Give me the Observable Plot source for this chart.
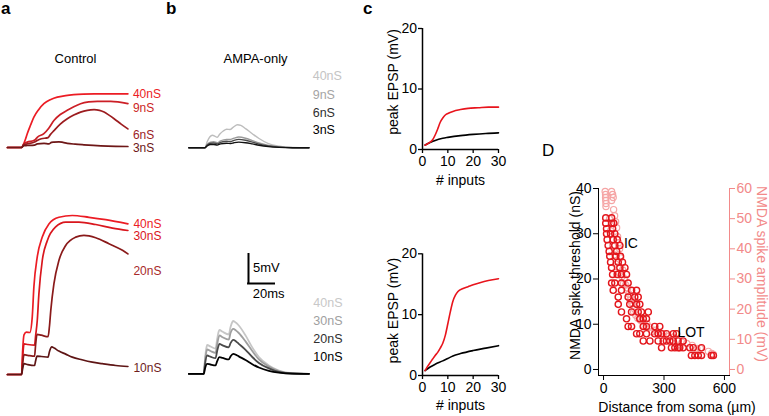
<!DOCTYPE html>
<html><head><meta charset="utf-8">
<script src="https://cdn.jsdelivr.net/npm/d3@7"></script>
<script src="https://cdn.jsdelivr.net/npm/@observablehq/plot@0.6"></script>
<style>
html,body{margin:0;padding:0;background:#fff;}
#chart{position:relative;width:769px;height:416px;overflow:hidden;font-family:"Liberation Sans",Arial,sans-serif;}
#chart svg{position:absolute;left:0;top:0;background:transparent;overflow:visible;}
.lbl{position:absolute;white-space:nowrap;line-height:1;}
</style></head><body><div id="chart"></div>
<script>
// ---------- DATA ----------
// Panel a (Control): [time ms, voltage mV]
const ctrlTopLabels = ["40nS", "9nS", "6nS", "3nS"];
const ctrlTop40 = [[0,0],[10.5,0],[13,1.2],[14.6,2.3],[17,3.7],[19.5,5.05],[23,6.3],[26.9,7.3],[32,8.0],[36.8,8.4],[43,8.65],[49,8.8],[56,8.9],[64,8.95],[76,8.95],[89,8.95]];
const ctrlTop9 = [[0,0],[10.5,0],[12,0.6],[14.6,0.9],[19.5,1.17],[20.5,1.3],[22,1.7],[26.9,2.3],[30.5,3.2],[34.3,4.5],[39,5.5],[44.2,6.2],[49,6.8],[54,7.3],[60,7.6],[66.4,7.7],[76.3,7.7],[89,7.3]];
const ctrlTop6 = [[0,0],[10.5,0],[12,0.45],[14.6,0.6],[20,0.9],[22,1.17],[25,1.45],[30,1.65],[31.5,2.1],[34.3,2.8],[39,3.9],[44.2,4.8],[49,5.4],[54,5.9],[59,6.2],[64,6.3],[68,6.2],[71.4,5.9],[75,5.4],[78.8,4.8],[84,3.9],[89,3.1]];
const ctrlTop3 = [[0,0],[10.5,0],[12,0.3],[14.6,0.33],[20,0.4],[22,0.6],[27,0.7],[30.6,0.62],[32.5,0.85],[34.3,0.9],[38,0.95],[41,0.85],[44.2,0.7],[50,0.56],[56.5,0.45],[69,0.28],[80,0.2],[89,0.17]];
const ctrlBotLabels = ["40nS", "30nS", "20nS", "10nS"];
const ctrlBot40 = [[0,0],[10.4,0],[11.2,4],[12.2,6.6],[14,7.05],[16.5,7.0],[18.3,9.6],[19.5,14.6],[22,19.6],[25.7,22.9],[30.6,25.1],[38,26.2],[47.9,26.5],[60.2,26.2],[72.6,25.8],[89,25.1]];
const ctrlBot30 = [[0,0],[10.4,0],[11.2,2.8],[12.2,5.1],[15,5.0],[20,4.9],[20.8,6.5],[22,9],[23.2,13.4],[25.7,19],[29.4,22.3],[35.6,24.6],[43,25.4],[52.8,25.4],[65.2,25],[77.6,24.4],[89,24]];
const ctrlBot20 = [[0,0],[10.4,0],[11.2,1.8],[12.2,3.3],[15,3.2],[20,3.05],[20.8,5],[21.8,6.7],[25,6.55],[30,6.3],[31,8],[32,10.7],[34.3,15.1],[38,19],[43,21.5],[50.4,22.9],[56.5,23.2],[65.2,22.8],[75,21.8],[85,20.7],[89,20.1]];
const ctrlBot10 = [[0,0],[10.4,0],[11.2,1.0],[12.2,1.8],[15,1.65],[20,1.5],[20.8,2.3],[21.8,3.05],[25,3.0],[30,2.9],[31,3.8],[32.8,4.6],[34.5,4.4],[38,3.9],[43,3.4],[47.9,2.9],[55,2.45],[62.7,2.05],[70,1.8],[80,1.5],[89,1.33]];
// Panel b (AMPA-only): [time ms, voltage mV]
const ampaTopLabels = ["40nS", "9nS", "6nS", "3nS"];
const ampaTop40 = [[0,0],[11.9,0],[13.6,1.0],[15.5,1.8],[17.5,2.1],[19.5,1.9],[21,1.75],[23,2.3],[25.5,2.8],[28,3.1],[30.5,3.05],[33,3.45],[36,3.85],[38.5,3.75],[42,3.2],[47,2.35],[52,1.55],[59,0.7],[67,0.28],[77,0.05],[89,0]];
const ampaTop9 = [[0,0],[11.9,0],[13.6,0.55],[16,0.95],[18.5,1.0],[21,0.85],[23.5,1.15],[28,1.4],[31,1.4],[33.5,1.6],[37,1.8],[42,1.6],[47,1.2],[52,0.8],[59,0.4],[67,0.15],[77,0.03],[89,0]];
const ampaTop6 = [[0,0],[11.9,0],[13.6,0.45],[16,0.75],[18.5,0.8],[21,0.65],[23.5,0.9],[28,1.1],[31,1.05],[33.5,1.25],[37,1.4],[42,1.25],[47,0.95],[52,0.62],[59,0.3],[67,0.11],[77,0.02],[89,0]];
const ampaTop3 = [[0,0],[11.9,0],[13.6,0.3],[16,0.55],[18.5,0.55],[21,0.45],[23.5,0.65],[28,0.75],[31,0.72],[33.5,0.85],[37,0.95],[42,0.85],[47,0.65],[52,0.42],[59,0.2],[67,0.07],[77,0.01],[89,0]];
const ampaBotLabels = ["40nS", "30nS", "20nS", "10nS"];
const ampaBot40 = [[0,0],[11.1,0],[12,2.5],[13.2,4.5],[13.6,4.8],[16,4.55],[19.8,4.2],[21,5.8],[22.2,7.1],[22.7,7.3],[25,7.0],[29.6,6.55],[30.9,7.8],[32.4,8.7],[32.9,8.8],[35,8.5],[37,8.05],[42,6.4],[47,4.4],[51.9,2.8],[59.3,1.4],[66.7,0.55],[76.6,0.1],[89,0]];
const ampaBot30 = [[0,0],[11.1,0],[12,2.1],[13.6,4.05],[16,3.8],[19.8,3.5],[21,4.9],[22.7,6.4],[25,6.1],[29.6,5.7],[30.9,6.8],[32.9,7.5],[35,7.2],[37,6.8],[42,5.4],[47,3.8],[51.9,2.4],[59.3,1.2],[66.7,0.45],[76.6,0.08],[89,0]];
const ampaBot20 = [[0,0],[11.1,0],[12,1.6],[13.6,3.05],[16,2.85],[19.8,2.6],[21,3.8],[22.7,5.0],[25,4.75],[29.6,4.4],[30.9,5.1],[32.9,5.65],[35,5.4],[37,5.0],[42,4.0],[47,2.8],[51.9,1.8],[59.3,0.9],[66.7,0.3],[76.6,0.05],[89,0]];
const ampaBot10 = [[0,0],[11.1,0],[12,0.9],[13.6,1.67],[16,1.55],[19.8,1.4],[21,2.1],[22.7,2.77],[25,2.65],[29.6,2.4],[30.9,2.9],[32.9,3.33],[35,3.15],[37,2.9],[42,2.3],[47,1.6],[51.9,1.05],[59.3,0.5],[66.7,0.2],[76.6,0.03],[89,0]];
const scaleBarMs = 20, scaleBarMV = 5;
// Panel c: peak EPSP vs # inputs, [inputs, mV]
const cTopNmda = [[1,0.7],[2,0.95],[3,1.2],[4,1.6],[5,2.4],[6,3.4],[7,4.5],[8,5.2],[9,5.7],[10,5.95],[12,6.3],[15,6.6],[18,6.8],[22,6.9],[26,7.0],[30,7.0]];
const cTopAmpa = [[1,0.75],[3,1.15],[5,1.5],[8,1.85],[10,2.0],[15,2.3],[20,2.5],[25,2.65],[30,2.75]];
const cBotNmda = [[1,0.8],[2,1.5],[3,2.1],[4,2.7],[5,3.3],[6,3.8],[7,4.5],[8,5.3],[9,6.6],[10,8.5],[11,10.5],[12,12.2],[13,13.2],[14,13.8],[16,14.3],[18,14.6],[20,14.9],[23,15.3],[26,15.6],[30,15.9]];
const cBotAmpa = [[1,0.8],[3,1.4],[5,1.85],[8,2.4],[10,2.8],[12,3.2],[15,3.6],[20,4.1],[25,4.5],[30,4.9]];
const cXTicks = [0, 10, 20, 30], cYTicks = [0, 10, 20];
// Panel D: [distance µm, threshold nS] and [distance µm, amplitude mV]
const thresholdPts = [[11,33.5],[40,33.5],[11,32.3],[40,32.3],[51,32.3],[15,31.1],[45,31.1],[15,30],[35,30],[56,30],[18,28.7],[48,28.7],[68,28.7],[23,27.4],[56,27.4],[81,27.4],[28,26.1],[65,26.1],[31,25],[61,25],[84,25],[35,23.7],[73,23.7],[94,23.7],[40,22.5],[81,22.5],[106,22.5],[45,21],[68,21],[89,21],[114,21],[40,19.1],[56,19.1],[89,19.1],[122,19.1],[48,17.5],[89,17.5],[139,17.5],[164,17.5],[73,16],[122,16],[155,16],[172,16],[73,14.4],[130,14.4],[164,14.4],[180,14.4],[89,12.7],[139,12.7],[172,12.7],[188,12.7],[222,12.7],[114,11.2],[180,11.2],[197,11.2],[213,11.2],[122,9.5],[139,9.5],[197,9.5],[213,9.5],[254,9.5],[279,9.5],[164,7.9],[180,7.9],[213,7.9],[254,7.9],[271,7.9],[288,7.9],[312,7.9],[346,7.9],[362,7.9],[197,6.3],[230,6.3],[271,6.3],[296,6.3],[312,6.3],[329,6.3],[346,6.3],[370,6.3],[395,6.3],[288,4.8],[337,4.8],[354,4.8],[370,4.8],[378,4.8],[395,4.8],[428,4.8],[445,4.8],[486,4.8],[436,3.1],[453,3.1],[470,3.1],[486,3.1],[535,3.1],[545,3.1]];
const amplitudePts = [[8,59],[10,58],[10,57],[11,56],[12,55],[12,54],[40,59],[45,58],[48,57],[40,56],[50,53],[55,51],[30,50],[60,49],[65,47],[35,46],[70,44],[75,42],[45,41],[80,40],[55,38],[85,37],[60,35],[69,34],[79,32],[95,33],[91,30.7],[105,30],[99,28.5],[110,28],[116,26.3],[120,27],[125,25],[132,23],[135,24],[140,21.9],[145,22],[149,19.1],[155,20],[160,18],[170,17],[182,16.4],[190,16],[215,15.2],[200,14.5],[230,14],[240,12.5],[256,13],[270,12],[298,11.9],[320,11],[347,10.8],[370,10],[390,9],[413,8.6],[440,8],[463,7],[480,7],[520,6],[537,5.3],[545,5]];
const dXTicks = [0, 300, 600], dYTicks = [0, 10, 20, 30, 40], dY2Ticks = [0, 10, 20, 30, 40, 50, 60];
const dAnnotations = [{text: "IC", x: 136, y: 27.8}, {text: "LOT", x: 434, y: 8.2}];

// ---------- RENDER ----------
const FONT = '"Liberation Sans", Arial, sans-serif';
const chart = document.getElementById("chart");
const W = 769, H = 416;
function add(opts, fontSize = 13, color = "black") {
  const svg = Plot.plot({width: W, height: H,
    style: {fontFamily: FONT, fontSize: fontSize + "px", color, background: "transparent", overflow: "visible"},
    ...opts});
  chart.appendChild(svg);
  return svg;
}
function lab(text, x, baseline, size, opt = {}) {
  const d = document.createElement("div");
  d.className = "lbl";
  d.textContent = text;
  d.style.fontSize = size + "px";
  d.style.top = (baseline - 0.8465 * size) + "px";
  d.style.left = x + "px";
  if (opt.anchor === "middle") d.style.transform = "translateX(-50%)";
  d.style.color = opt.color || "#000";
  d.style.fontWeight = opt.weight || "normal";
  chart.appendChild(d);
}
const px = d => d[0], py = d => d[1];
function traces(series, colors, width) {
  return series.map((s, i) => Plot.line(s, {x: px, y: py, stroke: colors[i], strokeWidth: width, curve: "monotone-x"}));
}
function endLabels(series, labels, colors, dys, dx) {
  return series.map((s, i) => Plot.text([s[s.length - 1]], {x: px, y: py, text: () => labels[i], dx, dy: dys[i], textAnchor: "start", lineAnchor: "middle", fill: colors[i], fontSize: 12}));
}
function axisText(text, anchor, rotate, dx, dy, extra = {}) {
  return Plot.text([text], {frameAnchor: anchor, rotate, dx, dy, textAnchor: "middle", lineAnchor: "middle", ...extra});
}

// Panel a top
const aTopColors = ["#ec1c24", "#cc1f26", "#9c1c1f", "#6e1717"];
const aTopSeries = [ctrlTop40, ctrlTop9, ctrlTop6, ctrlTop3];
add({
  marginLeft: 7, marginRight: W - 127.4, marginTop: 87, marginBottom: H - 147,
  x: {domain: [0, 89], axis: null}, y: {domain: [0, 10], axis: null},
  marks: [...traces(aTopSeries, aTopColors, 1.7), ...endLabels(aTopSeries, ctrlTopLabels, aTopColors, [0, 4, 6.7, 1.8], 5)]
});
// Panel a bottom
const aBotColors = ["#ec1c24", "#d9161d", "#8a1a1a", "#5e1515"];
const aBotLabelColors = ["#ec1c24", "#d9161d", "#a82a2a", "#6e1d1d"];
const aBotSeries = [ctrlBot40, ctrlBot30, ctrlBot20, ctrlBot10];
add({
  marginLeft: 7, marginRight: W - 127.4, marginTop: 212, marginBottom: H - 374,
  x: {domain: [0, 89], axis: null}, y: {domain: [0, 27], axis: null},
  marks: [...traces(aBotSeries, aBotColors, 1.7), ...endLabels(aBotSeries, ctrlBotLabels, aBotLabelColors, [0, 6, 17, 1.6], 5.5)]
});
// Panel b top
const bTopColors = ["#bdbdbd", "#9a9a9a", "#4a4a4a", "#111111"];
add({
  marginLeft: 188.3, marginRight: W - 308.5, marginTop: 117.3, marginBottom: H - 147.3,
  x: {domain: [0, 89], axis: null}, y: {domain: [0, 5], axis: null},
  marks: traces([ampaTop40, ampaTop9, ampaTop6, ampaTop3], bTopColors, 1.4)
});
// Panel b bottom + scale bar
const bBotColors = ["#c6c6c6", "#9f9f9f", "#4a4a4a", "#000000"];
const barT0 = 44.2, barV0 = 15.05;
add({
  marginLeft: 188.3, marginRight: W - 308.5, marginTop: 313.3, marginBottom: H - 373.3,
  x: {domain: [0, 89], axis: null}, y: {domain: [0, 10], axis: null},
  marks: [
    ...traces([ampaBot40, ampaBot30, ampaBot20, ampaBot10], bBotColors, 1.8),
    Plot.ruleX([barT0], {y1: barV0, y2: barV0 + scaleBarMV, stroke: "#000", strokeWidth: 2}),
    Plot.ruleY([barV0], {x1: barT0 - 0.7, x2: barT0 + scaleBarMs, stroke: "#000", strokeWidth: 2})
  ]
});
// Panel c
const cYMax = 20.5;
function cPanel(y20, y0, nmda, ampa, yLabelDy, xLabelDy) {
  const pxPerUnit = (y0 - y20) / 20;
  add({
    marginLeft: 422, marginRight: W - 498, marginTop: y20 - (cYMax - 20) * pxPerUnit, marginBottom: H - y0,
    x: {domain: [0, 30]},
    y: {domain: [0, cYMax]},
    marks: [
      Plot.axisX(cXTicks, {tickSize: 4, tickPadding: 3, label: null, strokeWidth: 1.3}),
      Plot.axisY(cYTicks, {tickSize: 4, tickPadding: 1.5, label: null, strokeWidth: 1.3}),
      Plot.ruleX([0], {y1: 0, y2: 20, strokeWidth: 1.5}),
      Plot.ruleY([0], {strokeWidth: 1.5}),
      Plot.line(ampa, {x: px, y: py, stroke: "#000", strokeWidth: 1.6, curve: "monotone-x"}),
      Plot.line(nmda, {x: px, y: py, stroke: "#e8141c", strokeWidth: 1.6, curve: "monotone-x"}),
      axisText("peak EPSP (mV)", "left", -90, -29, yLabelDy),
      axisText("# inputs", "bottom", 0, 0, xLabelDy)
    ]
  }, 14);
}
cPanel(28, 149, cTopNmda, cTopAmpa, -5.5, 31);
cPanel(253.3, 375, cBotNmda, cBotAmpa, -2.5, 30);

// Panel D: right axis + amplitude (pink), drawn first
const PINK = "#f28a8a";
add({
  marginLeft: 598, marginRight: 40, marginTop: 188, marginBottom: 41,
  x: {domain: [-25, 625], axis: null},
  y: {domain: [-2, 60], axis: "right", ticks: dY2Ticks, tickSize: 5, tickPadding: 2, line: true, label: null},
  marks: [
    Plot.dot(amplitudePts, {x: px, y: py, r: 3.1, stroke: "#f5a5a5", strokeWidth: 1.2, fill: "none"}),
    axisText("NMDA spike amplitude (mV)", "right", 90, 32, -8, {fill: PINK})
  ]
}, 14, PINK);
// Panel D: left axis + threshold (red)
add({
  marginLeft: 598, marginRight: 40, marginTop: 188, marginBottom: 41,
  x: {domain: [-25, 625], ticks: dXTicks, tickSize: 5, tickPadding: 3, line: true, label: null},
  y: {domain: [-1.33, 40], ticks: dYTicks, tickSize: 5, tickPadding: 2, line: true, label: null},
  marks: [
    Plot.dot(thresholdPts, {x: px, y: py, r: 3.1, stroke: "#e3161c", strokeWidth: 1.4, fill: "none"}),
    Plot.text(dAnnotations, {x: "x", y: "y", text: "text", fontSize: 14}),
    axisText("NMDA spike threshold (nS)", "left", -90, -23, -6.5),
    axisText("Distance from soma (µm)", "bottom", 0, 13, 32)
  ]
}, 14);

// Free text: titles, panel letters, legends, scale bar labels
lab("a", 1, 14.5, 17, {weight: "bold"});
lab("b", 166, 14.5, 17, {weight: "bold"});
lab("c", 363, 14.5, 17, {weight: "bold"});
lab("D", 542, 156.7, 17);
lab("Control", 75.5, 63.3, 13, {anchor: "middle"});
lab("AMPA-only", 255.5, 63.3, 13, {anchor: "middle"});
const bTopLabelColors = ["#c4c4c4", "#a5a5a5", "#303030", "#000"];
const bTopBase = [81, 99.3, 117.3, 135];
ampaTopLabels.forEach((t, i) => lab(t, 312.7, bTopBase[i], 12.5, {color: bTopLabelColors[i]}));
const bBotLabelColors = ["#c8c8c8", "#a0a0a0", "#303030", "#000"];
const bBotBase = [307.3, 325.7, 344, 361.7];
ampaBotLabels.forEach((t, i) => lab(t, 313.3, bBotBase[i], 12.5, {color: bBotLabelColors[i]}));
lab(scaleBarMV + "mV", 253, 271.7, 13);
lab(scaleBarMs + "ms", 252.7, 298.3, 13);
</script></body></html>
